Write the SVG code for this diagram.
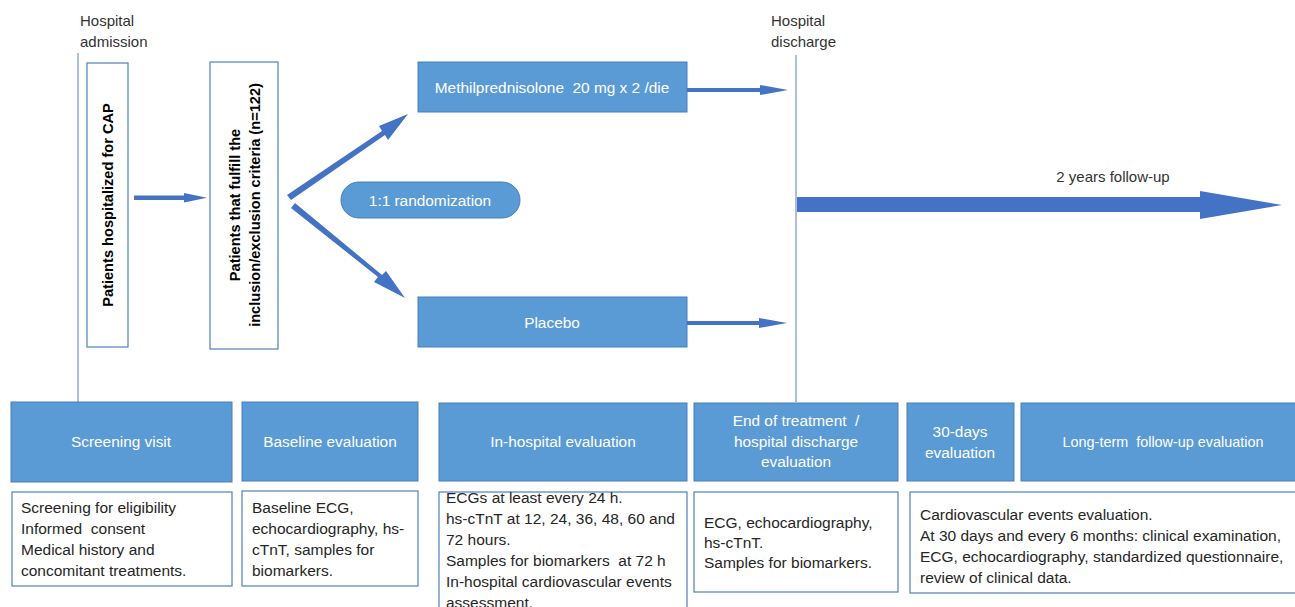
<svg xmlns="http://www.w3.org/2000/svg" width="1295" height="607" viewBox="0 0 1295 607">
<style>
text{font-family:"Liberation Sans",Arial,sans-serif;font-size:15.5px;fill:#262626;white-space:pre}
.hd{fill:#5B9BD5;stroke:#4A7EBB;stroke-width:1}
.hdt{fill:#fff;text-anchor:middle;font-size:15.4px}
.tb{fill:#fff;stroke:#4F81BD;stroke-width:1.2}
.vl{stroke:#8EA9DB;stroke-width:1.5;fill:none}
.ar{fill:#4472C4}
.lbl{font-size:15px;fill:#333}
.rot{font-weight:bold;text-anchor:middle;font-size:14.6px;fill:#000}
</style>
<rect width="1295" height="607" fill="#fff"/>
<g id="timeline">
<line class="vl" x1="78" y1="53" x2="78" y2="402"/>
<text class="lbl" x="80" y="26">Hospital</text>
<text class="lbl" x="80" y="47">admission</text>
<line class="vl" x1="796" y1="55" x2="796" y2="402"/>
<text class="lbl" x="771" y="26">Hospital</text>
<text class="lbl" x="771" y="47">discharge</text>
</g>
<g id="cap">
<rect class="tb" x="87" y="63" width="41" height="284"/>
<text class="rot" transform="translate(113,205) rotate(-90)">Patients hospitalized for CAP</text>
</g>
<g id="criteria">
<rect class="tb" x="210" y="62" width="68" height="287"/>
<text class="rot" transform="translate(240,205) rotate(-90)">Patients that fulfill the</text>
<text class="rot" transform="translate(260,205) rotate(-90)">inclusion/exclusion criteria (n=122)</text>
</g>
<g id="methyl">
<rect class="hd" x="418" y="62" width="269" height="50"/>
<text class="hdt" x="552" y="93">Methilprednisolone&#160; 20 mg x 2 /die</text>
</g>
<g id="random">
<rect class="hd" x="341" y="182" width="179" height="36" rx="18"/>
<text class="hdt" x="430" y="206">1:1 randomization</text>
</g>
<g id="placebo">
<rect class="hd" x="418" y="297" width="269" height="50"/>
<text class="hdt" x="552" y="328">Placebo</text>
</g>
<g id="followup-label">
<text class="lbl" x="1113" y="182" text-anchor="middle">2 years follow-up</text>
</g>
<g id="connectors">
<path class="ar" d="M134,195.5 H184 V193 L207,197.8 L184,202.5 V200 H134 Z"/>
<path class="ar" d="M287,195 L382,131 L379,126 L408,114 L388,140 L385,135 L291,200 Z"/>
<path class="ar" d="M291,208 L378,277 L374,282 L405,298 L386,271 L382,275 L295,203 Z"/>
<path class="ar" d="M687,88 H760 V85 L788,90 L760,95 V92 H687 Z"/>
<path class="ar" d="M687,321 H759 V318 L787,323 L759,328 V325 H687 Z"/>
<path class="ar" d="M797,197 H1200 V191 L1282,205 L1200,219 V212 H797 Z"/>
</g>
<g id="screening">
<rect class="hd" x="11" y="402" width="221" height="80"/>
<text class="hdt" x="121" y="447">Screening visit</text>
<rect class="tb" x="12" y="492" width="220" height="94"/>
<text x="21" y="513">Screening for eligibility</text>
<text x="21" y="534">Informed&#160; consent</text>
<text x="21" y="555">Medical history and</text>
<text x="21" y="576">concomitant treatments.</text>
</g>
<g id="baseline">
<rect class="hd" x="242" y="402" width="176" height="79"/>
<text class="hdt" x="330" y="447">Baseline evaluation</text>
<rect class="tb" x="242" y="491" width="176" height="95"/>
<text x="252" y="513">Baseline ECG,</text>
<text x="252" y="534">echocardiography, hs-</text>
<text x="252" y="555">cTnT, samples for</text>
<text x="252" y="576">biomarkers.</text>
</g>
<g id="inhospital">
<rect class="hd" x="439" y="403" width="248" height="78"/>
<text class="hdt" x="563" y="447">In-hospital evaluation</text>
<rect class="tb" x="439" y="492" width="248" height="120"/>
<text x="446" y="503">ECGs at least every 24 h.</text>
<text x="446" y="524">hs-cTnT at 12, 24, 36, 48, 60 and</text>
<text x="446" y="545">72 hours.</text>
<text x="446" y="566">Samples for biomarkers&#160; at 72 h</text>
<text x="446" y="587">In-hospital cardiovascular events</text>
<text x="446" y="608">assessment.</text>
</g>
<g id="endtreatment">
<rect class="hd" x="694" y="403" width="204" height="78"/>
<text class="hdt" x="796" y="426">End of treatment&#160; /</text>
<text class="hdt" x="796" y="447">hospital discharge</text>
<text class="hdt" x="796" y="467">evaluation</text>
<rect class="tb" x="694" y="492" width="204" height="100"/>
<text x="704" y="528">ECG, echocardiography,</text>
<text x="704" y="548">hs-cTnT.</text>
<text x="704" y="568">Samples for biomarkers.</text>
</g>
<g id="day30">
<rect class="hd" x="907" y="403" width="107" height="78"/>
<text class="hdt" x="960" y="437">30-days</text>
<text class="hdt" x="960" y="458">evaluation</text>
</g>
<g id="longterm">
<rect class="hd" x="1021" y="403" width="280" height="78"/>
<text class="hdt" x="1163" y="447" style="font-size:14.4px">Long-term&#160; follow-up evaluation</text>
<rect class="tb" x="910" y="492" width="390" height="101"/>
<text x="920" y="520">Cardiovascular events evaluation.</text>
<text x="920" y="541">At 30 days and every 6 months: clinical examination,</text>
<text x="920" y="562">ECG, echocardiography, standardized questionnaire,</text>
<text x="920" y="583">review of clinical data.</text>
</g>
</svg>
